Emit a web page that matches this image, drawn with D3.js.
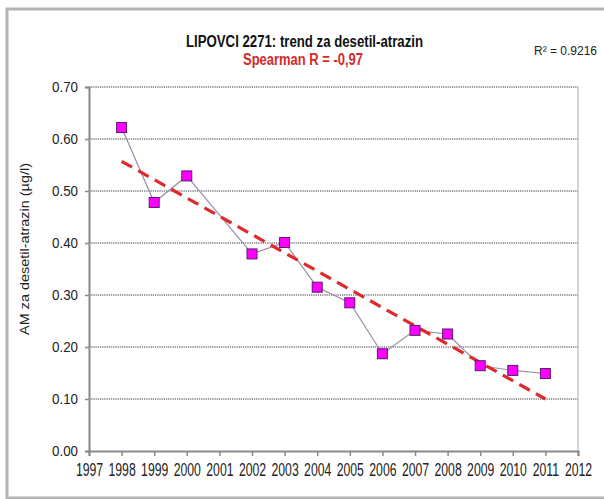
<!DOCTYPE html>
<html><head><meta charset="utf-8">
<script src="https://cdn.jsdelivr.net/npm/d3@7"></script>
<style>
html,body{margin:0;padding:0;background:#fff;}
svg{display:block;}
text{font-family:"Liberation Sans",Arial,sans-serif;}
</style></head>
<body><svg id="c" width="604" height="499"></svg>
<script>
const years = [1998, 1999, 2000, 2002, 2003, 2004, 2005, 2006, 2007, 2008, 2009, 2010, 2011];
const values = [0.622, 0.478, 0.529, 0.379, 0.401, 0.315, 0.285, 0.187, 0.232, 0.225, 0.164, 0.155, 0.149];
const trendYears = [1998, 2011];
const trendValues = [0.557, 0.100];
const xTicks = [1997,1998,1999,2000,2001,2002,2003,2004,2005,2006,2007,2008,2009,2010,2011,2012];
const yTicks = [0, 0.1, 0.2, 0.3, 0.4, 0.5, 0.6, 0.7];
const title = "LIPOVCI 2271: trend za desetil-atrazin";
const subtitle = "Spearman R = -0,97";
const r2Label = "R\u00B2 = 0.9216";
const yLabel = "AM za desetil-atrazin (\u00B5g/l)";

const svg = d3.select("#c");
const L = 89, R = 578, T = 87, B = 451;
const x = d3.scaleLinear().domain([1997, 2012]).range([L, R]);
const y = d3.scaleLinear().domain([0, 0.7]).range([B, T]);

// outer frame
svg.append("rect").attr("x", 7).attr("y", 9).attr("width", 605).attr("height", 489)
  .attr("fill", "#fff").attr("stroke", "#b4b4b4").attr("stroke-width", 3);

// gridlines
svg.append("g").selectAll("line").data(yTicks.filter(d => d > 0)).join("line")
  .attr("x1", L).attr("x2", R).attr("y1", d => y(d)).attr("y2", d => y(d))
  .attr("stroke", "#777").attr("stroke-width", 1.6).attr("stroke-dasharray", "1.2,1");

// right plot border
svg.append("line").attr("x1", R).attr("x2", R).attr("y1", T).attr("y2", B)
  .attr("stroke", "#aaa").attr("stroke-width", 1);

// axes
const yAxis = d3.axisLeft(y).tickValues(yTicks).tickFormat(d3.format(".2f")).tickSize(4).tickPadding(7);
const gy = svg.append("g").attr("transform", `translate(${L},0)`).call(yAxis);
const xAxis = d3.axisBottom(x).tickValues(xTicks).tickFormat(d3.format("d")).tickSize(5).tickPadding(7);
const gx = svg.append("g").attr("transform", `translate(0,${B})`).call(xAxis);
[gx, gy].forEach(g => {
  g.select(".domain").attr("stroke", "#888").attr("stroke-width", 2);
  g.selectAll(".tick line").attr("stroke", "#888").attr("stroke-width", 1.5);
  g.selectAll(".tick text").attr("fill", "#222")
    .attr("font-family", "Liberation Sans, Arial, sans-serif");
});
gx.selectAll(".tick text").attr("font-size", 18).attr("transform", "scale(0.68,1)");
gy.selectAll(".tick text").attr("font-size", 15)
  .attr("textLength", 26).attr("lengthAdjust", "spacingAndGlyphs");

// connecting line
svg.append("path").datum(years.map((d, i) => [d, values[i]]))
  .attr("d", d3.line().x(d => x(d[0])).y(d => y(d[1])))
  .attr("fill", "none").attr("stroke", "#9a8aa8").attr("stroke-width", 1.2);

// trend line
svg.append("path").datum(trendYears.map((d, i) => [d, trendValues[i]]))
  .attr("d", d3.line().x(d => x(d[0])).y(d => y(d[1])))
  .attr("fill", "none").attr("stroke", "#dd2a2a").attr("stroke-width", 3.2)
  .attr("stroke-dasharray", "12,7");

// markers
const s = 10;
svg.append("g").selectAll("rect").data(years.map((d, i) => [d, values[i]])).join("rect")
  .attr("x", d => x(d[0]) - s / 2).attr("y", d => y(d[1]) - s / 2)
  .attr("width", s).attr("height", s)
  .attr("fill", "#ff00ff").attr("stroke", "#5a1a6a").attr("stroke-width", 1);

// titles
svg.append("text").attr("x", 186).attr("y", 46.5)
  .attr("font-size", 16).attr("font-weight", "bold").attr("fill", "#111")
  .attr("textLength", 237).attr("lengthAdjust", "spacingAndGlyphs")
  .text(title);
svg.append("text").attr("x", 243).attr("y", 64.5)
  .attr("font-size", 16).attr("font-weight", "bold").attr("fill", "#d42a2a")
  .attr("textLength", 120).attr("lengthAdjust", "spacingAndGlyphs")
  .text(subtitle);
svg.append("text").attr("x", 534).attr("y", 55)
  .attr("font-size", 12).attr("fill", "#222")
  .attr("textLength", 63).attr("lengthAdjust", "spacingAndGlyphs")
  .text(r2Label);

// y label
svg.append("text").attr("transform", "translate(29,335) rotate(-90)")
  .attr("font-size", 12).attr("fill", "#222")
  .attr("textLength", 172).attr("lengthAdjust", "spacingAndGlyphs")
  .text(yLabel);
</script></body></html>
